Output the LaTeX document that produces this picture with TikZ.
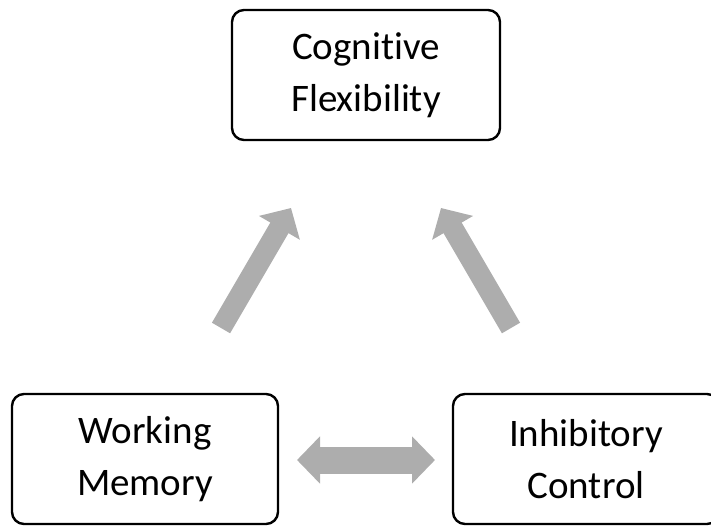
\documentclass[tikz,border=0pt]{standalone}
\usepackage{fontspec}
\setmainfont{Carlito}[Ligatures=NoCommon]
\usetikzlibrary{arrows.meta}
\definecolor{arrowgray}{RGB}{173,173,173}

\begin{document}
\begin{tikzpicture}[x=1pt, y=1pt,
    box/.style={draw, rounded corners=12pt, line width=2.4pt, align=center,
        minimum width=266pt, minimum height=130pt, inner sep=0pt,
        font=\fontsize{39}{52}\selectfont},
    fatarrow/.style={draw=arrowgray, line width=21pt,
        -{Triangle[length=23pt, width=46pt]}},
    twoway/.style={draw=arrowgray, line width=27pt,
        {Triangle[length=23pt, width=46pt]}-{Triangle[length=23pt, width=46pt]}}]
    \useasboundingbox (0, 0) rectangle (711, 525);
    \node[box, minimum width=268pt] (cf) at (366, 450) {Cognitive\\Flexibility};
    \node[box] (wm) at (145, 66) {Working\\Memory};
    \node[box] (ic) at (586, 66) {Inhibitory\\Control};
    \coordinate (wm-out) at (221, 197);
    \coordinate (ic-out) at (511, 197);
    \coordinate (cf-left) at (291, 317);
    \coordinate (cf-right) at (441, 317);
    \coordinate (wm-east) at (297, 65);
    \coordinate (ic-west) at (435, 65);
    \draw[fatarrow] (wm-out) -- (cf-left);
    \draw[fatarrow] (ic-out) -- (cf-right);
    \draw[twoway] (wm-east) -- (ic-west);
\end{tikzpicture}
\end{document}
